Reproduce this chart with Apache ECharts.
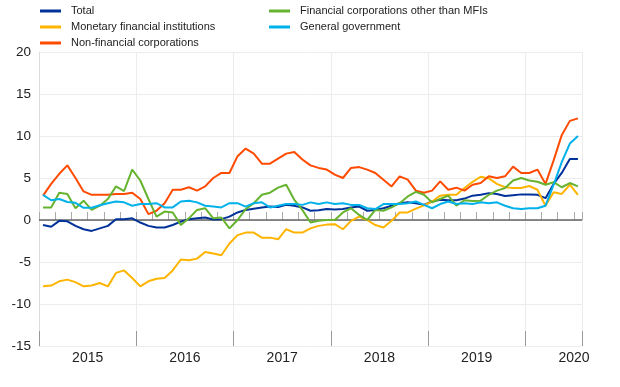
<!DOCTYPE html>
<html>
<head>
<meta charset="utf-8">
<script src="https://cdn.jsdelivr.net/npm/echarts@6/dist/echarts.min.js"></script>
<style>html,body{margin:0;padding:0;background:#fff;}#c{width:620px;height:387px;}</style>
</head>
<body>
<div id="c"></div>
<script>
const years = ['2015', '2016', '2017', '2018', '2019', '2020'];
const lastMonth2020 = 7;
const months = [];
years.forEach(function (y) {
  const n = (y === '2020') ? lastMonth2020 : 12;
  for (let m = 1; m <= n; m++) months.push(y + '-' + (m < 10 ? '0' + m : m));
});

const seriesNames = ['Total', 'Monetary financial institutions', 'Non-financial corporations',
  'Financial corporations other than MFIs', 'General government'];

const total = [-0.6, -0.8, -0.1, -0.15, -0.7, -1.1, -1.3, -1.0, -0.7, 0.1, 0.1, 0.2,
  -0.3, -0.7, -0.9, -0.9, -0.6, -0.2, 0.1, 0.2, 0.3, 0.05, 0.1, 0.4,
  0.9, 1.2, 1.35, 1.5, 1.6, 1.55, 1.8, 1.7, 1.5, 1.1, 1.15, 1.3,
  1.25, 1.3, 1.5, 1.6, 1.1, 1.2, 1.4, 1.7, 2.0, 2.1, 2.0, 1.8,
  2.2, 2.4, 2.35, 2.35, 2.55, 2.9, 3.0, 3.2, 3.1, 2.85, 2.95, 3.05,
  3.05, 3.0, 2.6, 4.3, 5.6, 7.25, 7.25];

const mfi = [-7.9, -7.8, -7.3, -7.1, -7.4, -7.9, -7.8, -7.5, -7.9, -6.3, -6.0, -6.9,
  -7.9, -7.3, -7.0, -6.9, -6.0, -4.7, -4.8, -4.6, -3.8, -4.0, -4.2, -2.8,
  -1.8, -1.5, -1.5, -2.1, -2.1, -2.3, -1.1, -1.5, -1.5, -1.0, -0.7, -0.55,
  -0.5, -1.1, -0.1, 0.4, 0.0, -0.6, -0.9, -0.1, 0.9, 0.9, 1.35, 1.75,
  2.2, 2.9, 3.0, 3.0, 3.8, 4.55, 5.15, 4.95, 4.3, 3.9, 3.8, 3.8,
  4.05, 3.6, 1.7, 3.3, 3.1, 4.2, 3.0];

const nfc = [2.9, 4.3, 5.5, 6.5, 5.0, 3.4, 3.0, 3.0, 3.0, 3.1, 3.1, 3.25,
  2.5, 0.7, 1.1, 2.0, 3.6, 3.6, 3.9, 3.5, 4.0, 5.0, 5.6, 5.6,
  7.6, 8.5, 7.9, 6.7, 6.7, 7.3, 7.9, 8.1, 7.2, 6.5, 6.2, 6.0,
  5.4, 5.0, 6.2, 6.3, 6.0, 5.6, 4.8, 4.0, 5.2, 4.8, 3.5, 3.25,
  3.5, 4.6, 3.6, 3.85, 3.5, 4.2, 4.4, 5.2, 5.0, 5.2, 6.35, 5.6,
  5.6, 6.0, 4.3, 7.1, 10.1, 11.8, 12.1];

const fcOther = [1.5, 1.5, 3.25, 3.1, 1.4, 2.3, 1.2, 1.7, 2.5, 4.0, 3.45, 6.0,
  4.7, 2.5, 0.4, 1.0, 0.9, -0.6, 0.2, 1.2, 1.4, 0.2, 0.3, -1.0,
  0.0, 1.3, 2.0, 3.0, 3.25, 3.85, 4.2, 2.4, 1.2, -0.3, -0.1, 0.0,
  0.0, 0.9, 1.4, 0.6, 0.0, 1.2, 1.1, 1.5, 2.0, 2.8, 3.35, 3.0,
  2.1, 2.5, 2.9, 1.7, 2.35, 2.25, 2.3, 3.0, 3.5, 3.8, 4.7, 5.0,
  4.7, 4.55, 4.2, 4.5, 3.9, 4.4, 4.0];

const genGov = [3.0, 2.35, 2.5, 2.15, 2.05, 1.45, 1.45, 1.75, 2.0, 2.2, 2.1, 1.7,
  1.9, 1.9, 2.0, 1.5, 1.5, 2.2, 2.3, 2.1, 1.7, 1.6, 1.5, 2.0,
  2.0, 1.6, 2.0, 2.1, 1.5, 1.7, 1.9, 1.9, 1.8, 2.1, 1.9, 2.1,
  1.9, 2.0, 1.8, 1.8, 1.4, 1.3, 1.9, 1.9, 1.9, 2.0, 2.2, 1.8,
  1.4, 1.9, 2.2, 1.9, 2.0, 1.9, 2.1, 2.0, 2.1, 1.7, 1.4, 1.3,
  1.4, 1.4, 1.7, 4.2, 6.9, 9.1, 10.0];

const colors = ['#003299', '#ffb400', '#ff4b00', '#65b32e', '#00b1ea'];
const values = [total, mfi, nfc, fcOther, genGov];

const baseFont = "'Liberation Sans', Arial, sans-serif";

const chart = echarts.init(document.getElementById('c'), null, {renderer: 'canvas'});

function legendCfg(left, names) {
  return {
    left: left, top: 3, orient: 'vertical', padding: 0,
    itemWidth: 21, itemHeight: 3, itemGap: 0, icon: 'rect',
    textStyle: {fontFamily: baseFont, fontSize: 11, lineHeight: 16, color: '#222', padding: [0, 0, 0, 5]},
    data: names
  };
}

const series = seriesNames.map(function (name, k) {
  const s = {
    name: name, type: 'line', data: values[k], showSymbol: false, symbol: 'none',
    smooth: false, color: colors[k],
    lineStyle: {width: 2, color: colors[k]},
    emphasis: {disabled: true}, animation: false, z: 3
  };
  if (k === 0) {
    s.markLine = {
      silent: true, symbol: 'none', label: {show: false}, animation: false,
      lineStyle: {color: '#666', width: 1.5, type: 'solid'},
      data: [{yAxis: 0}], z: 2
    };
  }
  return s;
});

chart.setOption({
  animation: false,
  textStyle: {fontFamily: baseFont},
  legend: [
    legendCfg(40, [seriesNames[0], seriesNames[1], seriesNames[2]]),
    legendCfg(269, [seriesNames[3], seriesNames[4]])
  ],
  grid: {left: 39, right: 38, top: 52, bottom: 41, containLabel: false},
  xAxis: [
    {
      type: 'category', data: months, boundaryGap: true,
      axisLine: {show: true, lineStyle: {color: '#d4d4d4', width: 1}},
      axisTick: {show: true, inside: true, length: 8, interval: function (i) { return i % 2 === 0; },
        lineStyle: {color: '#aaa'}},
      axisLabel: {
        interval: function (i) { return i % 12 === 6; },
        margin: 5,
        formatter: function (v) { return '{a|' + v.slice(0, 4) + '}'; },
        rich: {a: {fontFamily: baseFont, fontSize: 14, color: '#222', padding: [0, 8, 0, 0]}}
      },
      splitLine: {show: false}
    },
    {
      type: 'category', data: months, boundaryGap: true, position: 'bottom',
      axisLine: {show: false},
      axisTick: {show: true, inside: true, length: 15, interval: function (i) { return i % 12 === 0; },
        lineStyle: {color: '#999'}},
      axisLabel: {show: false},
      splitLine: {show: true, interval: function (i) { return i % 12 === 0 && i > 0; },
        lineStyle: {color: '#ececec', width: 1}}
    }
  ],
  yAxis: {
    type: 'value', min: -15, max: 20, interval: 5,
    axisLine: {show: true, lineStyle: {color: '#dcdcdc'}},
    axisTick: {show: false},
    axisLabel: {fontFamily: baseFont, fontSize: 13.5, color: '#222', margin: 8},
    splitLine: {show: true, lineStyle: {color: '#ececec', width: 1}}
  },
  series: series
});
</script>
</body>
</html>
